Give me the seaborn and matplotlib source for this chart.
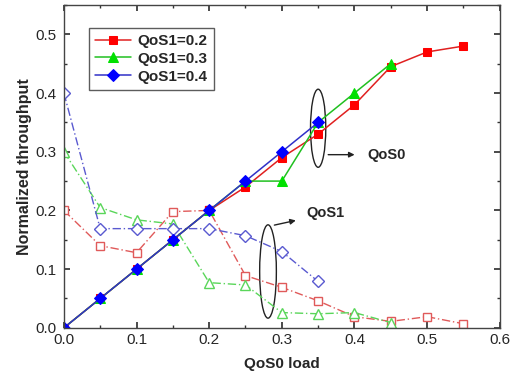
import matplotlib
matplotlib.use("Agg")
import matplotlib.pyplot as plt
import seaborn as sns
import pandas as pd
from matplotlib.patches import Ellipse
from matplotlib.ticker import MultipleLocator, FormatStrFormatter

sns.set_theme(style="white")
plt.rcParams['font.family'] = ['Liberation Sans', 'DejaVu Sans']

load = [0.0, 0.05, 0.1, 0.15, 0.2, 0.25, 0.3, 0.35, 0.4, 0.45, 0.5, 0.55]

# QoS0 throughput (solid, filled markers)
qos0_02 = [0.0, 0.05, 0.10, 0.15, 0.20, 0.24, 0.29, 0.33, 0.38, 0.445, 0.47, 0.48]
qos0_03 = [0.0, 0.05, 0.10, 0.15, 0.20, 0.25, 0.25, 0.35, 0.40, 0.45]
qos0_04 = [0.0, 0.05, 0.10, 0.15, 0.20, 0.25, 0.30, 0.35]

# QoS1 throughput (dash-dot, hollow markers)
qos1_02 = [0.20, 0.14, 0.128, 0.198, 0.20, 0.089, 0.069, 0.046, 0.019, 0.011, 0.019, 0.007]
qos1_03 = [0.30, 0.205, 0.184, 0.177, 0.077, 0.073, 0.026, 0.024, 0.026, 0.009]
qos1_04 = [0.40, 0.169, 0.169, 0.169, 0.169, 0.157, 0.13, 0.079]

labels = ["QoS1=0.2", "QoS1=0.3", "QoS1=0.4"]
colors = ["#ff0000", "#00e000", "#0000ff"]
linecols = ["#e02020", "#20c020", "#3030c8"]
light = ["#e05a5a", "#5ad65a", "#5a5ad0"]
markers = ["s", "^", "D"]
msizes = [5.5, 6.5, 6.5]

fig, ax = plt.subplots(figsize=(5.11, 3.83), dpi=100)
fig.subplots_adjust(left=0.125, right=0.978, bottom=0.144, top=0.987)

solid = [qos0_02, qos0_03, qos0_04]
dashed = [qos1_02, qos1_03, qos1_04]

for i in range(3):
    d = pd.DataFrame({"x": load[:len(dashed[i])], "y": dashed[i]})
    sns.lineplot(data=d, x="x", y="y", ax=ax, color=light[i], linestyle=(0, (6, 2, 1, 2)),
                 lw=1.0, marker=markers[i], markersize=msizes[i],
                 markerfacecolor="white", markeredgecolor=light[i], markeredgewidth=1.0,
                 legend=False)

for i in range(3):
    d = pd.DataFrame({"x": load[:len(solid[i])], "y": solid[i]})
    sns.lineplot(data=d, x="x", y="y", ax=ax, color=linecols[i], lw=1.1,
                 marker=markers[i], markersize=msizes[i], markerfacecolor=colors[i],
                 markeredgecolor=colors[i], label=labels[i], legend=False)

ax.set_xlim(0, 0.6)
ax.set_ylim(0, 0.55)
ax.xaxis.set_major_locator(MultipleLocator(0.1))
ax.xaxis.set_minor_locator(MultipleLocator(0.05))
ax.yaxis.set_major_locator(MultipleLocator(0.1))
ax.yaxis.set_minor_locator(MultipleLocator(0.05))
ax.xaxis.set_major_formatter(FormatStrFormatter('%.1f'))
ax.yaxis.set_major_formatter(FormatStrFormatter('%.1f'))
ax.tick_params(which="both", direction="in", top=True, right=True, left=True, bottom=True,
               color="#333333")
ax.tick_params(which="major", length=4, labelsize=11)
ax.tick_params(axis="x", which="major", pad=4)
ax.tick_params(axis="y", which="major", pad=5)
ax.tick_params(which="minor", length=2.5)
for s in ax.spines.values():
    s.set_color("#444444")
    s.set_linewidth(1.0)

ax.set_xlabel("QoS0 load", fontsize=11, fontweight="bold", labelpad=7)
ax.set_ylabel("Normalized throughput", fontsize=11.5, fontweight="bold", labelpad=3)

leg = ax.legend(loc="upper left", bbox_to_anchor=(0.057, 0.929), borderaxespad=0,
                frameon=True, fancybox=False, edgecolor="#333333",
                prop={"weight": "bold", "size": 11},
                handlelength=2.4, borderpad=0.4, labelspacing=0.25, handletextpad=0.4)
leg.get_frame().set_linewidth(1.0)

# annotations
ax.add_patch(Ellipse((0.35, 0.34), 0.021, 0.133, fill=False, edgecolor="#222222", lw=1.0))
ax.annotate("", xy=(0.404, 0.295), xytext=(0.36, 0.295),
            arrowprops=dict(arrowstyle="-|>", color="#222222", lw=1.0, mutation_scale=8))
ax.text(0.418, 0.295, "QoS0", fontsize=10.5, fontweight="bold", va="center", ha="left")

ax.add_patch(Ellipse((0.281, 0.096), 0.023, 0.159, fill=False, edgecolor="#222222", lw=1.0))
ax.annotate("", xy=(0.323, 0.184), xytext=(0.286, 0.174),
            arrowprops=dict(arrowstyle="-|>", color="#222222", lw=1.0, mutation_scale=8))
ax.text(0.334, 0.196, "QoS1", fontsize=10.5, fontweight="bold", va="center", ha="left")

fig.savefig("out.png", dpi=100)
